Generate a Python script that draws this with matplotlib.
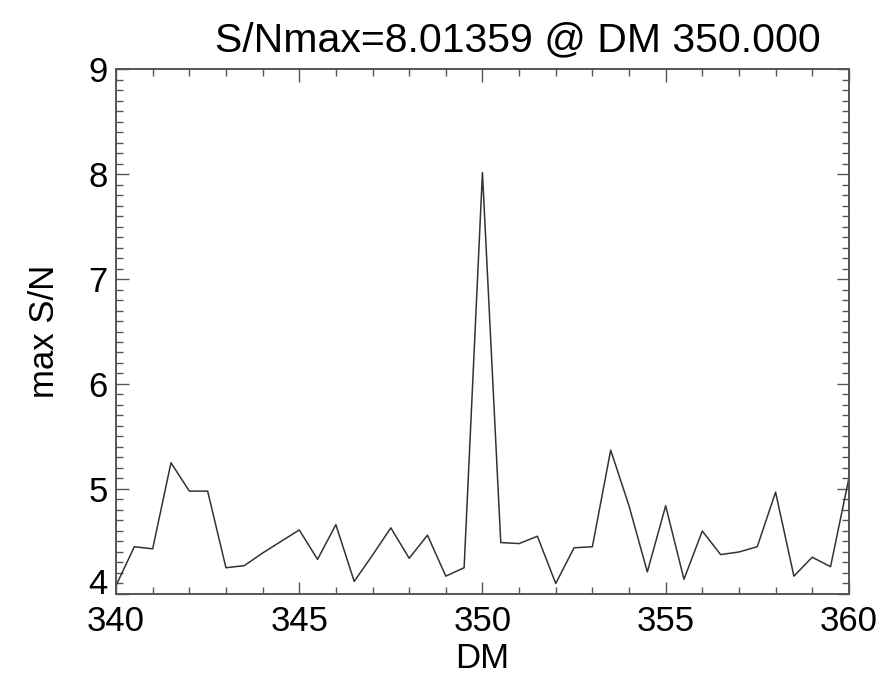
import matplotlib
matplotlib.use('Agg')
import matplotlib.pyplot as plt
import matplotlib.transforms as mtransforms
from matplotlib.ticker import MultipleLocator
import numpy as np

# trial DMs and max S/N
dm = np.arange(340.0, 360.01, 0.5)
snr = [4.08, 4.45, 4.43, 5.25, 4.98, 4.98, 4.25, 4.27, 4.39, 4.50,
       4.61, 4.33, 4.66, 4.12, 4.37, 4.63, 4.34, 4.56, 4.17, 4.25,
       8.01359, 4.49, 4.48, 4.55, 4.10, 4.44, 4.45, 5.37, 4.84, 4.21,
       4.84, 4.14, 4.60, 4.375, 4.40, 4.45, 4.97, 4.17, 4.35, 4.26,
       5.10]
yticks = [4, 5, 6, 7, 8, 9]

plt.rcParams['font.family'] = ['Liberation Sans', 'DejaVu Sans']

fig = plt.figure(figsize=(8.87, 6.84), dpi=100)
ax = fig.add_axes([0.1308, 0.1316, 0.8262, 0.7675])

ax.plot(dm, snr, color='#333333', linewidth=1.1)

imax = int(np.argmax(snr))
ax.set_title('S/Nmax=%.5f @ DM %.3f' % (snr[imax], dm[imax]),
             fontsize=29.5, x=0.548, pad=13)
ax.set_xlabel('DM', fontsize=25, labelpad=3)
ax.set_ylabel('max S/N', fontsize=25, labelpad=20)

ax.set_xlim(340, 360)
ax.set_ylim(4, 9)
ax.xaxis.set_major_locator(MultipleLocator(5))
ax.xaxis.set_minor_locator(MultipleLocator(1))
ax.set_yticks(yticks)
ax.yaxis.set_minor_locator(MultipleLocator(0.1))

ax.tick_params(which='both', direction='in', top=True, right=True,
               color='#555555', width=1.0)
ax.tick_params(which='major', length=9, labelsize=25)
ax.tick_params(axis='x', which='major', pad=8)
ax.tick_params(axis='y', which='major', pad=6)
ax.tick_params(which='minor', length=5)

# lift the bottom "4" a little so it clears the "340" below it
lab = ax.yaxis.get_major_ticks()[0].label1
lab.set_transform(lab.get_transform() +
                  mtransforms.ScaledTranslation(0, 9 / 72, fig.dpi_scale_trans))

for s in ax.spines.values():
    s.set_color('#555555')
    s.set_linewidth(1.4)

fig.savefig('out.png', dpi=100)
